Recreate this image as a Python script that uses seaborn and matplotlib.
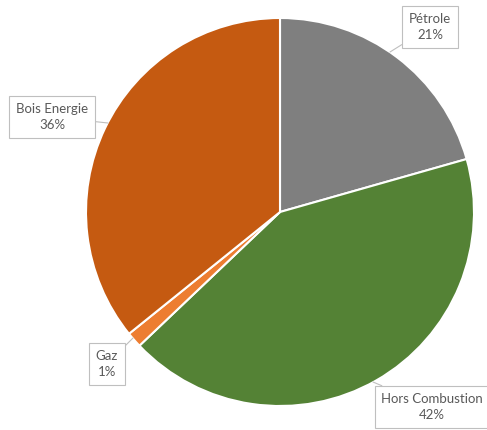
import matplotlib
matplotlib.use("Agg")
import matplotlib.pyplot as plt
import seaborn as sns

# -----------------------------
# Data
# -----------------------------
labels = ["Pétrole", "Hors Combustion", "Gaz", "Bois Energie"]
values = [20.6, 42.3, 1.3, 35.8]
pct_labels = ["21%", "42%", "1%", "36%"]
colors = ["#7F7F7F", "#548235", "#ED7D31", "#C55A11"]

sns.set_style("white")
plt.rcParams["font.family"] = ["Lato", "DejaVu Sans"]

fig = plt.figure(figsize=(4.87, 4.30), dpi=100)
ax = fig.add_axes([0, 0, 1, 1])

# pixel-like coordinates: x 0..487, y 0..430 (bottom up)
cx, cy, r = 280, 218, 194
ax.pie(values, colors=colors, startangle=90, counterclock=False,
       center=(cx, cy), radius=r,
       wedgeprops=dict(edgecolor="white", linewidth=1.5))
ax.set_xlim(0, 487)
ax.set_ylim(0, 430)
ax.set_aspect("equal")
ax.axis("off")

# -----------------------------
# Callout labels
# -----------------------------
box = dict(boxstyle="square,pad=0.5", fc="white", ec="#BFBFBF", lw=0.8)
line = dict(arrowstyle="-", color="#BFBFBF", lw=0.8, shrinkA=0, shrinkB=0)

# (text position, point on the pie)
positions = [
    ((430, 403), (390, 378)),
    ((432, 23), (373, 48)),
    ((107, 66), (133, 92)),
    ((52, 313), (108, 307)),
]

for lab, pct, (txt, pt) in zip(labels, pct_labels, positions):
    ax.annotate(f"{lab}\n{pct}", xy=pt, xytext=txt, ha="center", va="center",
                fontsize=9.5, color="#595959", linespacing=1.45,
                bbox=box, arrowprops=line, annotation_clip=False)

fig.savefig("out.png", dpi=100, facecolor="white")
